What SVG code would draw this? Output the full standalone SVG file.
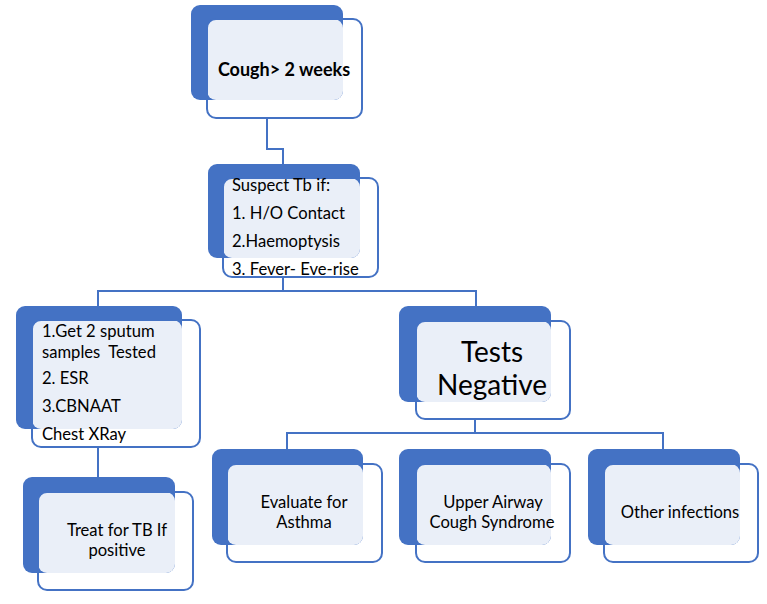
<svg xmlns="http://www.w3.org/2000/svg" width="767" height="604" viewBox="0 0 767 604">
<style>
.back{fill:#4472C4}
.light{fill:#EAEFF8}
.front{fill:none;stroke:#4472C4;stroke-width:2}
.conn{fill:none;stroke:#4472C4;stroke-width:2}
text{font-family:Lato,"Liberation Sans",sans-serif;fill:#000;font-size:16.6px}
.c{text-anchor:middle}
.big{font-size:28px}
.b{font-weight:bold;font-size:18px}
</style>
<rect width="767" height="604" fill="#fff"/>
<g id="connectors">
<path class="conn" d="M267,118 V149 H283 V164"/>
<path class="conn" d="M283,277 V291 M98,306 V291 H476 V306"/>
<path class="conn" d="M98,447 V477"/>
<path class="conn" d="M475,419 V433 M287,449 V433 H663 V449"/>
</g>
<g id="n-cough">
<rect class="back" x="191" y="5" width="152" height="95" rx="9"/>
<rect class="light" x="207" y="19" width="136" height="81" rx="9"/>
<rect class="front" x="207" y="19" width="155" height="99" rx="9"/>
<text class="b c" x="284" y="76">Cough&gt; 2 weeks</text>
</g>
<g id="n-suspect">
<rect class="back" x="208" y="164" width="152" height="94" rx="9"/>
<rect class="light" x="223" y="178" width="137" height="80" rx="9"/>
<rect class="front" x="223" y="178" width="155" height="99" rx="9"/>
<text x="232" y="191">Suspect Tb if:</text>
<text x="232" y="219">1. H/O Contact</text>
<text x="232" y="247">2.Haemoptysis</text>
<text x="232" y="275">3. Fever- Eve-rise</text>
</g>
<g id="n-tests">
<rect class="back" x="16" y="306" width="166" height="123" rx="9"/>
<rect class="light" x="32" y="320" width="150" height="109" rx="9"/>
<rect class="front" x="32" y="320" width="168" height="127" rx="9"/>
<text x="42" y="337">1.Get 2 sputum</text>
<text x="42" y="358" xml:space="preserve">samples  Tested</text>
<text x="42" y="384">2. ESR</text>
<text x="42" y="412">3.CBNAAT</text>
<text x="42" y="440">Chest XRay</text>
</g>
<g id="n-treat">
<rect class="back" x="23" y="477" width="152" height="96" rx="9"/>
<rect class="light" x="38" y="492" width="137" height="81" rx="9"/>
<rect class="front" x="38" y="492" width="155" height="98" rx="9"/>
<text class="c" x="117" y="536">Treat for TB If</text>
<text class="c" x="117" y="556">positive</text>
</g>
<g id="n-negative">
<rect class="back" x="399" y="306" width="152" height="96" rx="9"/>
<rect class="light" x="416" y="321" width="135" height="81" rx="9"/>
<rect class="front" x="416" y="321" width="154" height="98" rx="9"/>
<text class="big c" x="492" y="362">Tests</text>
<text class="big c" x="492" y="395">Negative</text>
</g>
<g id="n-asthma">
<rect class="back" x="212" y="449" width="151" height="96" rx="9"/>
<rect class="light" x="227" y="464" width="136" height="81" rx="9"/>
<rect class="front" x="227" y="464" width="155" height="98" rx="9"/>
<text class="c" x="304" y="508">Evaluate for</text>
<text class="c" x="304" y="528">Asthma</text>
</g>
<g id="n-uacs">
<rect class="back" x="399" y="449" width="152" height="96" rx="9"/>
<rect class="light" x="416" y="464" width="135" height="81" rx="9"/>
<rect class="front" x="416" y="464" width="154" height="98" rx="9"/>
<text class="c" x="493" y="508">Upper Airway</text>
<text class="c" x="492" y="528">Cough Syndrome</text>
</g>
<g id="n-other">
<rect class="back" x="588" y="449" width="152" height="96" rx="9"/>
<rect class="light" x="604" y="464" width="136" height="81" rx="9"/>
<rect class="front" x="604" y="464" width="154" height="98" rx="9"/>
<text class="c" x="680" y="518">Other infections</text>
</g>
</svg>
